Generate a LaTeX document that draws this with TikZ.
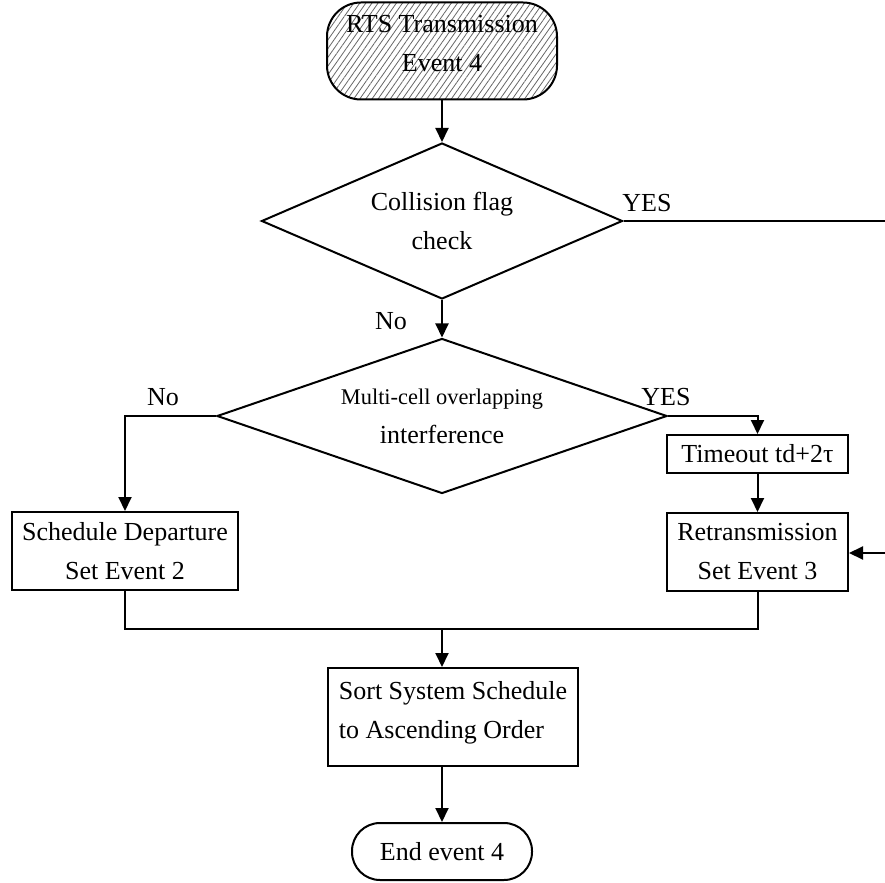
\documentclass[tikz,border=0pt]{standalone}
\usepackage{fontspec}
\setmainfont{Liberation Serif}
\usetikzlibrary{shapes.geometric,arrows.meta,patterns.meta}

\tikzset{
  txt/.style={font=\fontsize{13}{19.5}\selectfont},
  terminal/.style={txt,draw,line width=1pt,align=center,inner sep=0pt},
  procbox/.style={txt,draw,line width=1pt,align=center,inner sep=0pt},
  decision/.style={txt,draw,line width=1pt,align=center,shape=diamond,
    aspect=2.3,inner sep=0pt},
  flow/.style={line width=1pt,-{Triangle[length=7pt,width=6.5pt]}},
  link/.style={line width=1pt},
  lbl/.style={txt,inner sep=0pt}
}

\begin{document}
\begin{tikzpicture}[x=0.5pt,y=-0.5pt]
\useasboundingbox (0,0) rectangle (885,883);

% start terminal with hatching (text sits a little above centre)
\node[terminal,minimum width=115pt,minimum height=48.5pt,rounded corners=17pt,
  pattern={Lines[angle=55,distance=2.5pt,line width=0.4pt]},pattern color=black!60]
  (start) at (442,51) {RTS Transmission\\Event 4\\[-12pt]\mbox{}};

% decisions
\node[decision,minimum width=180.5pt,minimum height=78pt]
  (d1) at (442,221) {Collision flag\\check};
\node[decision,minimum width=225pt,minimum height=77.5pt]
  (d2) at (442,416) {{\fontsize{11.2}{19}\selectfont Multi-cell overlapping}\\interference};

% process boxes
\node[procbox,minimum width=90.5pt,minimum height=19pt] (tmo) at (757.5,454) {Timeout td+2τ};
\node[procbox,minimum width=90.5pt,minimum height=39pt] (retx) at (757.5,552) {Retransmission\\Set Event 3};
\node[procbox,minimum width=113pt,minimum height=39pt] (sched) at (125,551) {Schedule Departure\\Set Event 2};
\node[procbox,minimum width=125pt,minimum height=49pt,align=left] (sort) at (453,717) {Sort System Schedule\\to Ascending Order\\[-12pt]\mbox{}};

% end terminal
\node[terminal,minimum width=90pt,minimum height=28.5pt,rounded corners=14pt]
  (endn) at (442,851.5) {End event 4};

% junction and off-page ends
\coordinate (m) at (442,629);
\coordinate (rtop) at (885,221);
\coordinate (rin) at (885,553);

% connectors
\draw[flow] (start.south) -- (d1.north);
\draw[link] (d1.east) -- (rtop);
\draw[flow] (d1.south) -- (d2.north);
\draw[flow] (d2.west) -| (sched.north);
\draw[flow] (d2.east) -| (tmo.north);
\draw[flow] (tmo.south) -- (retx.north);
\draw[flow] (rin) -- (rin -| retx.east);
\draw[link] (sched.south) |- (m) -| (retx.south);
\draw[flow] (m) -- (m |- sort.north);
\draw[flow] (m |- sort.south) -- (endn.north);

% branch labels
\node[lbl] (yes1) at (647,203) {YES};
\node[lbl] (no1) at (391,321) {No};
\node[lbl] (no2) at (163,397) {No};
\node[lbl] (yes2) at (666,397) {YES};
\end{tikzpicture}
\end{document}
